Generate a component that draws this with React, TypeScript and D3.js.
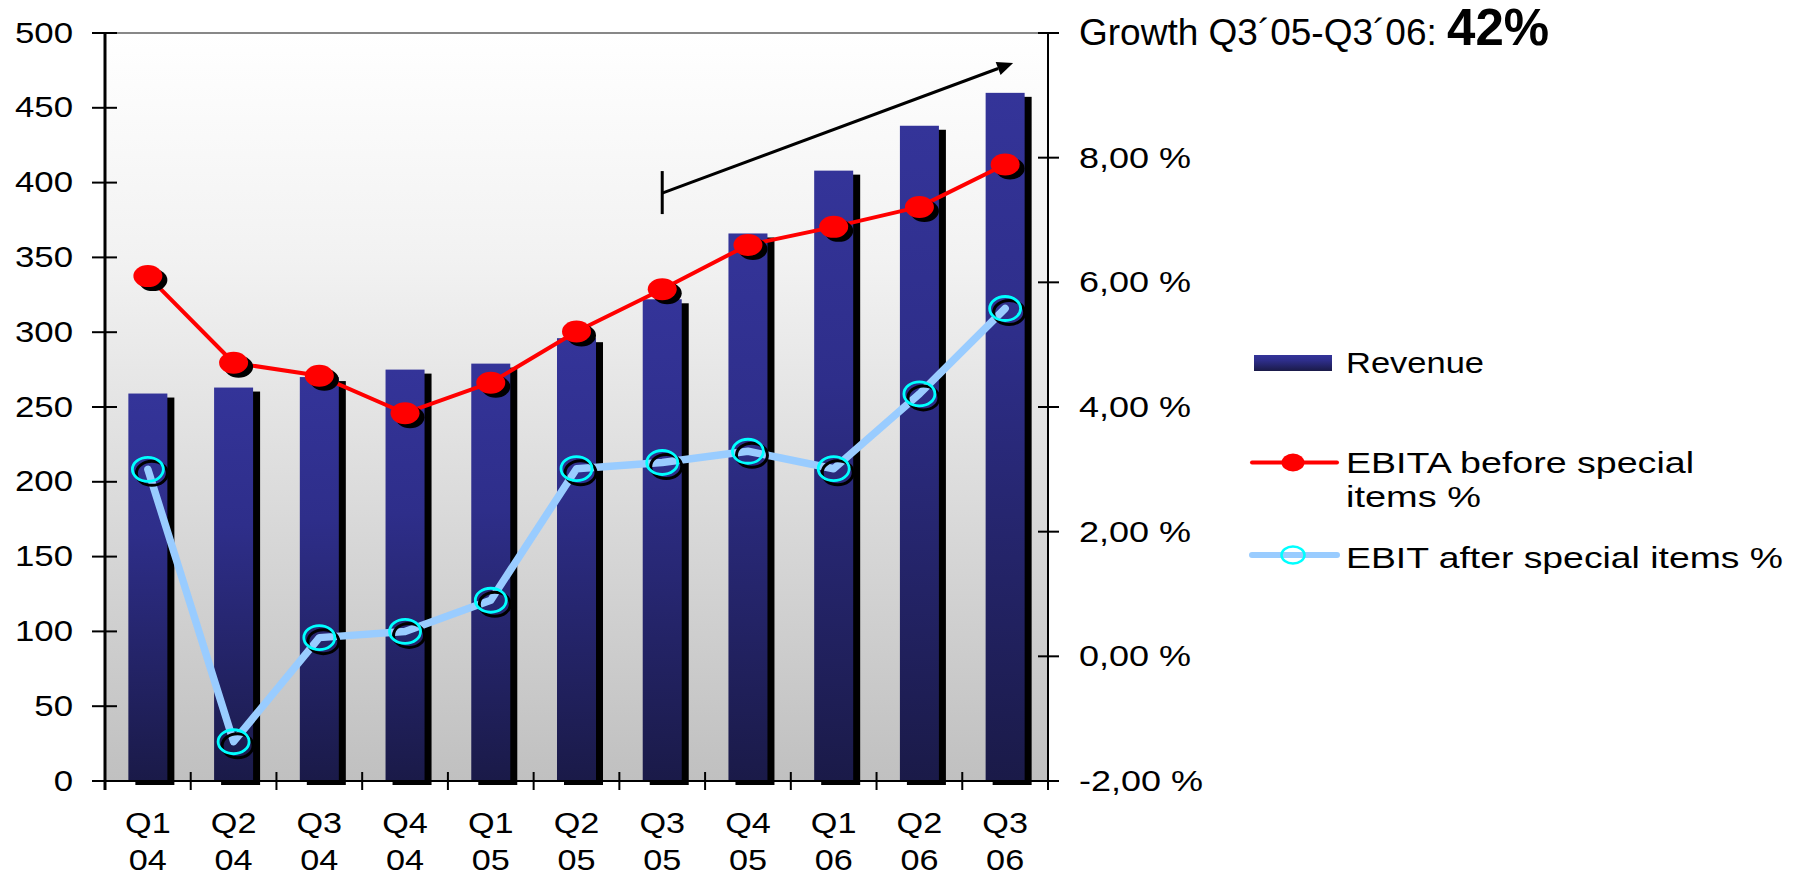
import React from "react";
import * as d3 from "d3";

const quarters = ["Q1", "Q2", "Q3", "Q4", "Q1", "Q2", "Q3", "Q4", "Q1", "Q2", "Q3"];
const years = ["04", "04", "04", "04", "05", "05", "05", "05", "06", "06", "06"];
const categories = quarters.map((q, i) => `${q} ${years[i]}`);
const revenue = [259, 263, 270, 275, 279, 296, 322, 366, 408, 438, 460];
const ebitaPct = [6.1, 4.71, 4.5, 3.9, 4.39, 5.21, 5.89, 6.6, 6.89, 7.21, 7.89];
const ebitPct = [3.0, -1.37, 0.3, 0.4, 0.9, 3.01, 3.11, 3.29, 3.01, 4.21, 5.58];
const leftTicks = [0, 50, 100, 150, 200, 250, 300, 350, 400, 450, 500];
const rightTicks = [-2, 0, 2, 4, 6, 8, 10];
const rightLabelled = [-2, 0, 2, 4, 6, 8];
const arrowFrom = { cat: "Q3 05", value: 393 };
const arrowTo = { cat: "Q3 06", value: 480 };
const titleText = "Growth Q3\u00B405-Q3\u00B406: ";
const titleValue = "42%";

const FONT = "'Liberation Sans', Arial, sans-serif";

function SText({ x, y, sx = 1, anchor = "start", size, weight = "normal", children }: any) {
  return (
    <text
      transform={`translate(${x},${y}) scale(${sx},1)`}
      textAnchor={anchor}
      fontSize={size}
      fontWeight={weight}
      fontFamily={FONT}
      fill="#000"
    >
      {children}
    </text>
  );
}

export default function App() {
  const W = 1807, H = 876;
  const left = 105, right = 1048, top = 33, bottom = 781;
  const x = d3.scaleBand<string>().domain(categories).range([left, right]).paddingInner(0).paddingOuter(0);
  const yL = d3.scaleLinear().domain([0, 500]).range([bottom, top]);
  const yR = d3.scaleLinear().domain([-2, 10]).range([bottom, top]);
  const bw = x.bandwidth() * 0.455;
  const cx = (c: string) => (x(c) as number) + x.bandwidth() / 2;

  const line = d3
    .line<number>()
    .x((_, i) => cx(categories[i]))
    .y((d) => yR(d));

  const fmtR = (v: number) => `${v.toFixed(2).replace(".", ",")} %`;

  const ax0 = cx(arrowFrom.cat), ay0 = yL(arrowFrom.value);
  const ax1 = cx(arrowTo.cat) + 8, ay1 = yL(arrowTo.value);
  const ang = Math.atan2(ay1 - ay0, ax1 - ax0);
  const headL = 16, headW = 7;
  const hx = ax1 - headL * Math.cos(ang), hy = ay1 - headL * Math.sin(ang);
  const head = [
    [ax1, ay1],
    [hx + headW * Math.sin(ang), hy - headW * Math.cos(ang)],
    [hx - headW * Math.sin(ang), hy + headW * Math.cos(ang)],
  ];

  return (
    <svg
      width={W}
      height={H}
      style={{ position: "absolute", left: 0, top: 0, display: "block", background: "#fff" }}
    >
      <defs>
        <linearGradient id="bg" x1="0" y1="0" x2="0" y2="1">
          <stop offset="0" stopColor="#ffffff" />
          <stop offset="0.3" stopColor="#f2f2f2" />
          <stop offset="1" stopColor="#c0c0c0" />
        </linearGradient>
        <linearGradient id="barg" x1="0" y1="0" x2="0" y2="1">
          <stop offset="0" stopColor="#343499" />
          <stop offset="0.35" stopColor="#2e2e8a" />
          <stop offset="1" stopColor="#1a1a48" />
        </linearGradient>
      </defs>

      {/* plot background */}
      <rect x={left} y={top} width={right - left} height={bottom - top} fill="url(#bg)" />
      <line x1={left} x2={right} y1={top} y2={top} stroke="#888" strokeWidth={2} />

      {/* bars */}
      {revenue.map((v, i) => {
        const bx = cx(categories[i]) - bw / 2;
        return (
          <g key={"b" + i}>
            <rect x={bx + 7} y={yL(v) + 4} width={bw} height={bottom - yL(v)} fill="#000" />
            <rect x={bx} y={yL(v)} width={bw} height={bottom - yL(v)} fill="url(#barg)" />
          </g>
        );
      })}

      {/* axes */}
      <line x1={left} x2={left} y1={top} y2={790} stroke="#000" strokeWidth={3} />
      <line x1={right} x2={right} y1={top} y2={790} stroke="#000" strokeWidth={2} />
      <line x1={92} x2={right} y1={bottom} y2={bottom} stroke="#000" strokeWidth={2} />
      {leftTicks.map((t) => (
        <g key={"lt" + t}>
          <line x1={92} x2={117} y1={yL(t)} y2={yL(t)} stroke="#000" strokeWidth={2} />
          <SText x={73} y={yL(t) + 9.5} sx={1.2} anchor="end" size={29}>
            {t}
          </SText>
        </g>
      ))}
      {rightTicks.map((t) => (
        <line key={"rt" + t} x1={1038} x2={1059} y1={yR(t)} y2={yR(t)} stroke="#000" strokeWidth={2} />
      ))}
      {rightLabelled.map((t) => (
        <SText key={"rl" + t} x={1079} y={yR(t) + 10} sx={1.2} size={30}>
          {fmtR(t)}
        </SText>
      ))}
      {categories.slice(1).map((c) => (
        <line key={"xt" + c} x1={x(c)} x2={x(c)} y1={772} y2={790} stroke="#000" strokeWidth={2} />
      ))}
      {categories.map((c, i) => (
        <g key={"xl" + c}>
          <SText x={cx(c)} y={833} sx={1.18} anchor="middle" size={29}>
            {quarters[i]}
          </SText>
          <SText x={cx(c)} y={869.5} sx={1.18} anchor="middle" size={29}>
            {years[i]}
          </SText>
        </g>
      ))}

      {/* growth arrow */}
      <line x1={ax0} x2={ax0} y1={ay0 - 22} y2={ay0 + 21} stroke="#000" strokeWidth={3} />
      <line x1={ax0} y1={ay0} x2={hx} y2={hy} stroke="#000" strokeWidth={3} />
      <polygon points={head.map((p) => p.join(",")).join(" ")} fill="#000" />

      {/* EBITA line */}
      <path d={line(ebitaPct) || ""} fill="none" stroke="#ff0000" strokeWidth={4} strokeLinejoin="round" />
      {/* EBIT line */}
      <path d={line(ebitPct) || ""} fill="none" stroke="#99ccff" strokeWidth={7.5} strokeLinejoin="round" strokeLinecap="round" />

      {ebitaPct.map((v, i) => (
        <g key={"rm" + i}>
          <ellipse cx={cx(categories[i]) + 5} cy={yR(v) + 4} rx={14.5} ry={11} fill="#000" />
          <ellipse cx={cx(categories[i])} cy={yR(v)} rx={14.5} ry={11} fill="#ff0000" />
        </g>
      ))}
      {ebitPct.map((v, i) => (
        <g key={"bm" + i}>
          <ellipse cx={cx(categories[i]) + 4} cy={yR(v) + 4} rx={15.5} ry={12} fill="none" stroke="#000" strokeWidth={3} />
          <ellipse cx={cx(categories[i])} cy={yR(v)} rx={15.5} ry={12} fill="none" stroke="#00ffff" strokeWidth={2.8} />
        </g>
      ))}

      {/* title */}
      <text x={1079} y={45} fontFamily={FONT} fontSize={37} fill="#000">
        {titleText}
        <tspan fontWeight="bold" fontSize={51}>
          {titleValue}
        </tspan>
      </text>

      {/* legend */}
      <rect x={1254} y={355} width={78} height={16} fill="url(#barg)" />
      <text x={1346} y={373} fontFamily={FONT} fontSize={29} textLength={138} lengthAdjust="spacingAndGlyphs">
        Revenue
      </text>
      <line x1={1252} x2={1337} y1={462.5} y2={462.5} stroke="#ff0000" strokeWidth={4} strokeLinecap="round" />
      <ellipse cx={1293} cy={462.5} rx={11.5} ry={9} fill="#ff0000" />
      <text x={1346} y={473} fontFamily={FONT} fontSize={29} textLength={348} lengthAdjust="spacingAndGlyphs">
        EBITA before special
      </text>
      <text x={1346} y={506.5} fontFamily={FONT} fontSize={29} textLength={135} lengthAdjust="spacingAndGlyphs">
        items %
      </text>
      <line x1={1252} x2={1337} y1={555} y2={555} stroke="#99ccff" strokeWidth={6} strokeLinecap="round" />
      <ellipse cx={1293} cy={555} rx={11.5} ry={8.5} fill="none" stroke="#00ffff" strokeWidth={2.5} />
      <text x={1346} y={568} fontFamily={FONT} fontSize={29} textLength={437} lengthAdjust="spacingAndGlyphs">
        EBIT after special items %
      </text>
    </svg>
  );
}
